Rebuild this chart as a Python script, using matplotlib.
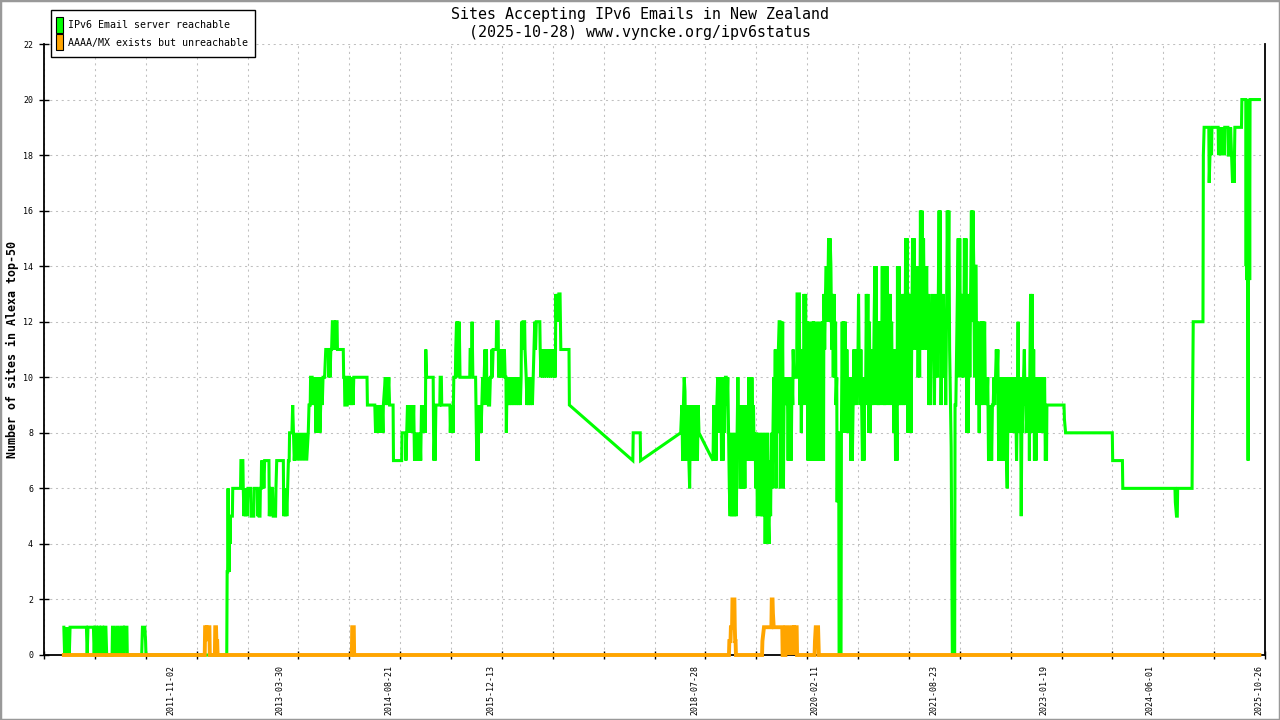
import datetime as dt
import numpy as np
import matplotlib
matplotlib.use("Agg")
import matplotlib.pyplot as plt
from matplotlib.patches import Rectangle
from matplotlib.transforms import blended_transform_factory

plt.rcParams['font.family'] = ['DejaVu Sans Mono']

title_1 = "Sites Accepting IPv6 Emails in New Zealand"
title_2 = "(2025-10-28) www.vyncke.org/ipv6status"
y_label = "Number of sites in Alexa top-50"
legend_labels = ["IPv6 Email server reachable", "AAAA/MX exists but unreachable"]
colors = ["#00ff00", "#ffa500"]

date_labels = ["2011-11-02", "2013-03-30", "2014-08-21", "2015-12-13", "2018-07-28",
               "2020-02-11", "2021-08-23", "2023-01-19", "2024-06-01", "2025-10-26"]
y_ticks = list(range(0, 23, 2))
x_start, x_end = 2010.205, 2025.892  # axis span in decimal years

# (decimal year, sites)
reachable = [
    (2010.46, 1), (2010.47, 0), (2010.48, 1), (2010.49, 0), (2010.50, 1), (2010.51, 0),
    (2010.52, 1), (2010.53, 0), (2010.54, 1), (2010.75, 1), (2010.76, 0), (2010.77, 1),
    (2010.84, 1), (2010.85, 0), (2010.86, 1), (2010.88, 1), (2010.89, 0), (2010.90, 1),
    (2010.92, 1), (2010.93, 0), (2010.94, 1), (2010.96, 1), (2010.97, 0), (2010.98, 1),
    (2011.00, 1), (2011.01, 0), (2011.08, 0), (2011.085, 1), (2011.10, 1), (2011.105, 0),
    (2011.115, 1), (2011.13, 0), (2011.14, 1), (2011.16, 1), (2011.165, 0), (2011.175, 1),
    (2011.19, 0), (2011.20, 1), (2011.225, 1), (2011.23, 0), (2011.24, 1), (2011.27, 1),
    (2011.275, 0), (2011.46, 0), (2011.465, 0.5), (2011.47, 1), (2011.50, 1), (2011.51, 0.5),
    (2011.515, 0), (2012.553, 0), (2012.558, 3), (2012.566, 3), (2012.57, 6), (2012.575, 3),
    (2012.58, 5), (2012.585, 3), (2012.59, 5), (2012.595, 4), (2012.60, 5), (2012.625, 5),
    (2012.63, 6), (2012.73, 6), (2012.735, 7), (2012.76, 7), (2012.765, 6), (2012.775, 5),
    (2012.785, 6), (2012.795, 5), (2012.805, 6), (2012.815, 5), (2012.825, 6), (2012.86, 6),
    (2012.865, 5), (2012.90, 5), (2012.905, 6), (2012.945, 6), (2012.95, 5), (2012.955, 6),
    (2012.96, 5), (2012.965, 6), (2012.97, 5), (2012.98, 5), (2012.985, 6), (2012.995, 6),
    (2013.00, 7), (2013.01, 6), (2013.02, 7), (2013.03, 6), (2013.04, 7), (2013.095, 7),
    (2013.10, 5), (2013.11, 6), (2013.12, 5), (2013.125, 6), (2013.14, 6), (2013.15, 5),
    (2013.18, 5), (2013.185, 6), (2013.195, 7), (2013.28, 7), (2013.285, 5), (2013.295, 6),
    (2013.305, 5), (2013.315, 6), (2013.325, 5), (2013.335, 6), (2013.345, 7), (2013.355, 7),
    (2013.36, 8), (2013.39, 8), (2013.40, 9), (2013.41, 8), (2013.42, 7), (2013.44, 8),
    (2013.46, 7), (2013.48, 8), (2013.50, 7), (2013.52, 8), (2013.54, 7), (2013.56, 8),
    (2013.58, 7), (2013.60, 8), (2013.61, 9), (2013.625, 9), (2013.63, 10), (2013.65, 10),
    (2013.66, 9), (2013.67, 10), (2013.68, 9), (2013.69, 10), (2013.70, 8), (2013.71, 10),
    (2013.72, 9), (2013.73, 8), (2013.74, 10), (2013.75, 8), (2013.76, 9), (2013.77, 10),
    (2013.78, 9), (2013.79, 10), (2013.81, 10), (2013.825, 11), (2013.86, 11), (2013.865, 10),
    (2013.875, 11), (2013.88, 10), (2013.89, 11), (2013.90, 11), (2013.91, 12), (2013.93, 12),
    (2013.935, 11), (2013.94, 12), (2013.955, 11), (2013.96, 12), (2013.97, 12), (2013.975, 11),
    (2014.05, 11), (2014.055, 10), (2014.065, 10), (2014.07, 9), (2014.10, 9), (2014.105, 10),
    (2014.13, 10), (2014.135, 9), (2014.145, 10), (2014.155, 9), (2014.165, 10), (2014.175, 9),
    (2014.185, 10), (2014.355, 10), (2014.36, 9), (2014.455, 9), (2014.465, 8), (2014.475, 9),
    (2014.485, 8), (2014.50, 9), (2014.51, 8), (2014.525, 9), (2014.535, 8), (2014.55, 9),
    (2014.56, 8), (2014.565, 9), (2014.59, 10), (2014.60, 9), (2014.61, 10), (2014.62, 9),
    (2014.635, 10), (2014.645, 9), (2014.69, 9), (2014.695, 7), (2014.80, 7), (2014.805, 8),
    (2014.85, 8), (2014.855, 7), (2014.865, 8), (2014.875, 9), (2014.885, 8), (2014.895, 9),
    (2014.905, 8), (2014.915, 9), (2014.925, 8), (2014.935, 9), (2014.945, 8), (2014.955, 9),
    (2014.965, 7), (2014.975, 8), (2014.985, 7), (2014.995, 8), (2015.005, 7), (2015.015, 8),
    (2015.025, 7), (2015.035, 8), (2015.045, 7), (2015.055, 9), (2015.065, 8), (2015.075, 9),
    (2015.085, 8), (2015.095, 9), (2015.105, 8), (2015.11, 11), (2015.12, 10), (2015.205, 10),
    (2015.21, 8), (2015.215, 7), (2015.225, 8), (2015.23, 7), (2015.24, 9), (2015.29, 9),
    (2015.295, 10), (2015.31, 10), (2015.315, 9), (2015.42, 9), (2015.425, 8), (2015.435, 9),
    (2015.445, 8), (2015.455, 9), (2015.46, 8), (2015.47, 10), (2015.49, 10), (2015.495, 11),
    (2015.505, 12), (2015.51, 10), (2015.52, 12), (2015.53, 11), (2015.54, 12), (2015.55, 10),
    (2015.675, 10), (2015.68, 11), (2015.70, 11), (2015.705, 12), (2015.71, 11), (2015.715, 10),
    (2015.75, 10), (2015.76, 8), (2015.765, 7), (2015.775, 8), (2015.785, 7), (2015.79, 9),
    (2015.80, 8), (2015.81, 9), (2015.82, 8), (2015.83, 9), (2015.84, 10), (2015.85, 9),
    (2015.86, 10), (2015.87, 11), (2015.88, 10), (2015.89, 11), (2015.895, 9), (2015.905, 10),
    (2015.915, 9), (2015.93, 9), (2015.94, 10), (2015.955, 10), (2015.96, 11), (2015.965, 10),
    (2015.975, 11), (2016.015, 11), (2016.02, 12), (2016.04, 12), (2016.045, 10), (2016.055, 11),
    (2016.065, 10), (2016.075, 11), (2016.085, 10), (2016.10, 11), (2016.11, 10), (2016.12, 11),
    (2016.13, 10), (2016.14, 10), (2016.145, 8), (2016.155, 10), (2016.165, 9), (2016.175, 10),
    (2016.185, 9), (2016.195, 10), (2016.21, 9), (2016.22, 10), (2016.23, 9), (2016.245, 10),
    (2016.255, 9), (2016.265, 10), (2016.28, 9), (2016.29, 10), (2016.30, 9), (2016.315, 10),
    (2016.325, 9), (2016.335, 10), (2016.34, 12), (2016.35, 11), (2016.36, 12), (2016.38, 12),
    (2016.385, 11), (2016.40, 10), (2016.41, 9), (2016.42, 10), (2016.43, 9), (2016.445, 10),
    (2016.455, 9), (2016.47, 10), (2016.48, 9), (2016.49, 10), (2016.50, 11), (2016.51, 12),
    (2016.52, 11), (2016.53, 12), (2016.575, 12), (2016.58, 11), (2016.59, 10), (2016.60, 11),
    (2016.61, 10), (2016.62, 11), (2016.635, 10), (2016.645, 11), (2016.66, 10), (2016.67, 11),
    (2016.685, 10), (2016.695, 11), (2016.71, 10), (2016.72, 11), (2016.735, 10), (2016.745, 11),
    (2016.76, 10), (2016.77, 11), (2016.775, 10), (2016.78, 13), (2016.79, 12), (2016.80, 13),
    (2016.81, 12), (2016.82, 13), (2016.835, 13), (2016.84, 12), (2016.845, 11), (2016.95, 11),
    (2016.955, 9), (2017.77, 7), (2017.775, 8), (2017.865, 8), (2017.87, 7), (2018.385, 8),
    (2018.40, 9), (2018.41, 7), (2018.42, 9), (2018.43, 10), (2018.44, 9.5), (2018.45, 7),
    (2018.46, 9), (2018.47, 7), (2018.48, 9), (2018.49, 7), (2018.50, 6), (2018.51, 9),
    (2018.52, 7), (2018.53, 9), (2018.54, 7), (2018.55, 9), (2018.56, 7), (2018.57, 9),
    (2018.58, 7), (2018.59, 9), (2018.60, 7), (2018.61, 9), (2018.62, 8), (2018.80, 7),
    (2018.81, 9), (2018.82, 7), (2018.83, 9), (2018.84, 7), (2018.85, 9), (2018.86, 10),
    (2018.87, 8), (2018.88, 10), (2018.89, 9), (2018.90, 10), (2018.91, 7), (2018.92, 9),
    (2018.93, 7), (2018.94, 10), (2018.95, 8), (2018.96, 10), (2018.97, 10), (2018.98, 9),
    (2018.99, 10), (2019.00, 8), (2019.01, 6), (2019.02, 5), (2019.03, 8), (2019.04, 5),
    (2019.05, 7), (2019.06, 5), (2019.07, 8), (2019.08, 5), (2019.09, 7), (2019.10, 5),
    (2019.11, 8), (2019.12, 10), (2019.13, 8), (2019.14, 9), (2019.15, 6), (2019.16, 9),
    (2019.17, 6), (2019.18, 9), (2019.19, 6), (2019.20, 8), (2019.21, 6), (2019.22, 9),
    (2019.23, 7), (2019.24, 9), (2019.25, 7), (2019.26, 10), (2019.27, 8), (2019.28, 10),
    (2019.29, 7), (2019.30, 10), (2019.31, 8), (2019.32, 9), (2019.33, 7), (2019.34, 8),
    (2019.35, 6), (2019.36, 8), (2019.37, 5), (2019.38, 8), (2019.39, 6), (2019.40, 7),
    (2019.41, 5), (2019.42, 8), (2019.43, 5), (2019.44, 7), (2019.45, 5), (2019.46, 8),
    (2019.47, 4), (2019.48, 7), (2019.49, 5), (2019.50, 8), (2019.51, 5), (2019.52, 4),
    (2019.53, 7), (2019.54, 5), (2019.55, 8), (2019.56, 6), (2019.57, 8), (2019.58, 10),
    (2019.59, 8), (2019.60, 11), (2019.61, 6), (2019.62, 10), (2019.63, 8), (2019.64, 11),
    (2019.65, 12), (2019.66, 12), (2019.665, 6), (2019.675, 12), (2019.685, 8), (2019.695, 12),
    (2019.705, 6), (2019.715, 10), (2019.725, 9), (2019.735, 10), (2019.745, 9), (2019.755, 10),
    (2019.765, 7), (2019.775, 10), (2019.785, 7), (2019.795, 10), (2019.805, 7), (2019.815, 10),
    (2019.825, 9), (2019.83, 11), (2019.84, 10), (2019.875, 10), (2019.88, 13), (2019.91, 13),
    (2019.915, 9), (2019.925, 11), (2019.935, 8), (2019.945, 11), (2019.955, 9), (2019.965, 11),
    (2019.97, 13), (2019.98, 10), (2019.99, 13), (2020.00, 9), (2020.01, 12), (2020.02, 7),
    (2020.03, 12), (2020.04, 7), (2020.05, 11), (2020.06, 8), (2020.07, 12), (2020.08, 7),
    (2020.09, 12), (2020.10, 9), (2020.11, 12), (2020.12, 7), (2020.13, 11), (2020.14, 8),
    (2020.15, 12), (2020.16, 7), (2020.17, 11), (2020.18, 7), (2020.19, 12), (2020.20, 8),
    (2020.21, 12), (2020.22, 7), (2020.225, 13), (2020.235, 11), (2020.245, 13), (2020.255, 14),
    (2020.265, 12), (2020.275, 13), (2020.285, 15), (2020.295, 12), (2020.305, 15), (2020.315, 14),
    (2020.325, 11), (2020.335, 13), (2020.345, 10), (2020.355, 13), (2020.365, 10), (2020.375, 12),
    (2020.38, 9), (2020.39, 10), (2020.395, 5.5), (2020.40, 8), (2020.415, 8), (2020.42, 0),
    (2020.445, 0), (2020.45, 8), (2020.46, 12), (2020.47, 8), (2020.48, 12), (2020.49, 9),
    (2020.50, 12), (2020.51, 8), (2020.52, 11), (2020.53, 9), (2020.54, 10), (2020.55, 8),
    (2020.56, 10), (2020.57, 7), (2020.58, 10), (2020.59, 7), (2020.60, 9), (2020.61, 11),
    (2020.62, 9), (2020.63, 11), (2020.64, 9), (2020.65, 11), (2020.66, 10), (2020.67, 13),
    (2020.68, 10), (2020.69, 9), (2020.70, 11), (2020.71, 9), (2020.72, 7), (2020.73, 10),
    (2020.74, 7), (2020.75, 10), (2020.76, 9), (2020.77, 13), (2020.78, 10), (2020.79, 13),
    (2020.80, 8), (2020.81, 12), (2020.82, 8), (2020.83, 11), (2020.84, 9), (2020.85, 10),
    (2020.86, 9), (2020.87, 12), (2020.88, 14), (2020.89, 10), (2020.895, 14), (2020.905, 9),
    (2020.915, 12), (2020.925, 9), (2020.935, 12), (2020.945, 9), (2020.955, 12), (2020.965, 10),
    (2020.975, 14), (2020.985, 9), (2020.995, 14), (2021.005, 9), (2021.015, 12), (2021.025, 9),
    (2021.035, 14), (2021.045, 10), (2021.055, 13), (2021.065, 9), (2021.075, 13), (2021.085, 10),
    (2021.095, 12), (2021.105, 9), (2021.115, 11), (2021.125, 8), (2021.135, 11), (2021.145, 7),
    (2021.155, 10), (2021.165, 7), (2021.17, 14), (2021.18, 9), (2021.19, 14), (2021.20, 9),
    (2021.21, 11), (2021.22, 9), (2021.23, 11), (2021.235, 13), (2021.245, 9), (2021.255, 13),
    (2021.265, 9), (2021.275, 15), (2021.285, 10), (2021.295, 15), (2021.305, 8), (2021.315, 13),
    (2021.325, 10), (2021.335, 13), (2021.345, 8), (2021.355, 12), (2021.365, 15), (2021.375, 11),
    (2021.385, 15), (2021.395, 12), (2021.405, 14), (2021.415, 11), (2021.425, 14), (2021.435, 10),
    (2021.445, 13), (2021.455, 10), (2021.465, 16), (2021.475, 12), (2021.485, 16), (2021.495, 11),
    (2021.505, 15), (2021.515, 12), (2021.525, 13), (2021.535, 11), (2021.545, 14), (2021.555, 11),
    (2021.565, 13), (2021.575, 9), (2021.585, 12), (2021.595, 9), (2021.605, 12), (2021.615, 13),
    (2021.625, 11), (2021.635, 12), (2021.645, 9), (2021.655, 13), (2021.665, 10), (2021.675, 12),
    (2021.685, 10), (2021.695, 13), (2021.705, 16), (2021.715, 12), (2021.72, 16), (2021.73, 9),
    (2021.74, 12), (2021.75, 10), (2021.76, 13), (2021.77, 10), (2021.78, 12), (2021.79, 9),
    (2021.80, 12), (2021.81, 16), (2021.82, 13), (2021.83, 16), (2021.84, 11), (2021.86, 7.5),
    (2021.875, 0), (2021.905, 0), (2021.91, 9), (2021.92, 9), (2021.95, 15), (2021.96, 10),
    (2021.97, 15), (2021.98, 11), (2021.99, 13), (2022.00, 10), (2022.01, 13), (2022.02, 10),
    (2022.03, 15), (2022.04, 11), (2022.05, 15), (2022.06, 8), (2022.07, 12), (2022.08, 8),
    (2022.09, 13), (2022.10, 10), (2022.11, 13), (2022.12, 16), (2022.13, 12), (2022.14, 16),
    (2022.15, 14), (2022.16, 10), (2022.17, 14), (2022.18, 14), (2022.19, 9), (2022.20, 12),
    (2022.21, 11), (2022.22, 8), (2022.23, 12), (2022.24, 9), (2022.25, 12), (2022.26, 9),
    (2022.27, 12), (2022.28, 10), (2022.29, 12), (2022.30, 9), (2022.31, 10), (2022.32, 9),
    (2022.33, 10), (2022.34, 7), (2022.35, 9), (2022.36, 7), (2022.37, 9), (2022.38, 7),
    (2022.39, 9), (2022.40, 9), (2022.41, 10), (2022.42, 9), (2022.43, 10), (2022.44, 11),
    (2022.45, 10), (2022.46, 11), (2022.47, 7), (2022.48, 10), (2022.49, 7), (2022.50, 9),
    (2022.51, 7), (2022.52, 10), (2022.53, 7), (2022.54, 9), (2022.55, 7), (2022.56, 10),
    (2022.57, 7), (2022.58, 6), (2022.59, 9), (2022.60, 10), (2022.61, 9), (2022.62, 10),
    (2022.63, 8), (2022.64, 10), (2022.65, 9), (2022.66, 10), (2022.67, 8), (2022.68, 10),
    (2022.69, 9), (2022.70, 7), (2022.71, 9), (2022.72, 12), (2022.73, 8), (2022.74, 9),
    (2022.75, 10), (2022.76, 5), (2022.77, 9), (2022.78, 8), (2022.79, 10), (2022.80, 11),
    (2022.81, 9), (2022.82, 10), (2022.83, 8), (2022.84, 10), (2022.85, 8), (2022.86, 10),
    (2022.865, 7), (2022.87, 10), (2022.88, 13), (2022.89, 9), (2022.90, 13), (2022.91, 8),
    (2022.92, 11), (2022.93, 7), (2022.94, 10), (2022.95, 7), (2022.96, 10), (2022.97, 8),
    (2022.98, 10), (2022.99, 8), (2023.00, 10), (2023.01, 8), (2023.02, 10), (2023.03, 9),
    (2023.04, 10), (2023.05, 8), (2023.06, 10), (2023.07, 7), (2023.08, 9), (2023.085, 7),
    (2023.09, 9), (2023.31, 9), (2023.315, 8.5), (2023.33, 8), (2023.93, 8), (2023.935, 7),
    (2024.06, 7), (2024.065, 6), (2024.735, 6), (2024.74, 5.5), (2024.755, 5), (2024.765, 5),
    (2024.77, 6), (2024.955, 6), (2024.96, 8.5), (2024.97, 12), (2025.095, 12), (2025.10, 18),
    (2025.11, 19), (2025.17, 19), (2025.175, 17), (2025.185, 18), (2025.19, 19), (2025.195, 18),
    (2025.20, 19), (2025.205, 18), (2025.21, 19), (2025.29, 19), (2025.295, 18), (2025.305, 19),
    (2025.31, 18), (2025.32, 19), (2025.325, 18), (2025.335, 19), (2025.34, 18), (2025.35, 19),
    (2025.355, 18), (2025.365, 19), (2025.37, 18), (2025.375, 19), (2025.415, 19), (2025.42, 18),
    (2025.445, 18), (2025.45, 19), (2025.475, 17), (2025.485, 18), (2025.495, 17), (2025.505, 19),
    (2025.59, 19), (2025.595, 20), (2025.645, 20), (2025.65, 14), (2025.655, 20), (2025.66, 13.5),
    (2025.665, 20), (2025.675, 7), (2025.68, 20), (2025.685, 14), (2025.69, 20), (2025.695, 13.5),
    (2025.70, 20), (2025.82, 20),
]

unreachable = [
    (2010.46, 0), (2012.27, 0), (2012.275, 1), (2012.29, 1), (2012.295, 0.5), (2012.30, 1),
    (2012.33, 1), (2012.335, 0), (2012.40, 0), (2012.405, 1), (2012.415, 1), (2012.42, 0.5),
    (2012.43, 0.5), (2012.435, 0), (2014.16, 0), (2014.165, 1), (2014.185, 1), (2014.19, 0),
    (2019.005, 0), (2019.01, 0.5), (2019.025, 0.5), (2019.03, 1), (2019.045, 1), (2019.05, 2),
    (2019.075, 2), (2019.08, 1), (2019.085, 0.5), (2019.09, 0.5), (2019.095, 0),
    (2019.43, 0), (2019.435, 0.5), (2019.455, 1), (2019.55, 1), (2019.555, 2), (2019.565, 2),
    (2019.57, 1.5), (2019.58, 1), (2019.69, 1), (2019.695, 0), (2019.73, 0), (2019.735, 1),
    (2019.76, 1), (2019.765, 0), (2019.775, 1), (2019.785, 0), (2019.795, 1), (2019.805, 0),
    (2019.81, 1), (2019.835, 1), (2019.84, 0), (2019.845, 1), (2019.875, 1), (2019.88, 0),
    (2020.105, 0), (2020.11, 0.5), (2020.12, 1), (2020.15, 1), (2020.16, 0), (2025.82, 0),
]


def dec_year(s):
    d = dt.date.fromisoformat(s)
    start = dt.date(d.year, 1, 1)
    length = (dt.date(d.year + 1, 1, 1) - start).days
    return d.year + (d - start).days / length


W, H = 1280, 720
fig = plt.figure(figsize=(W / 100, H / 100), dpi=100)
ax = fig.add_axes([44 / W, 65 / H, 1221 / W, 611 / H])

rx, ry = zip(*reachable)
ux, uy = zip(*unreachable)
ax.plot(rx, ry, color=colors[0], lw=2.2, solid_joinstyle='miter', zorder=3, clip_on=False)
ax.plot(ux, uy, color=colors[1], lw=2.8, solid_joinstyle='miter', zorder=4, clip_on=False)

ax.set_xlim(x_start, x_end)
ax.set_ylim(0, 22)

ax.set_xticks(np.linspace(x_start, x_end, 25))
ax.set_xticklabels([])
ax.set_yticks(y_ticks)
ax.set_yticklabels([str(v) for v in y_ticks], fontsize=6)
ax.tick_params(axis='x', direction='inout', length=6, width=1, color='black')
ax.tick_params(axis='y', direction='inout', length=6.8, width=1, color='black', pad=4.5)

ax.grid(True, color='#c0c0c0', lw=0.75, linestyle=(0, (2, 3.5)))
ax.set_axisbelow(True)
ax.spines['top'].set_visible(False)
for side in ['left', 'bottom', 'right']:
    ax.spines[side].set_linewidth(1.3)
    ax.spines[side].set_zorder(2)

trans = blended_transform_factory(ax.transData, ax.transAxes)
for lab in date_labels:
    ax.text(dec_year(lab), -0.017, lab, transform=trans, rotation=90,
            ha='center', va='top', fontsize=6)

fig.text(640 / W, 1 - 14 / H, title_1, ha='center', va='center', fontsize=10.8)
fig.text(640 / W, 1 - 32 / H, title_2, ha='center', va='center', fontsize=10.8)
fig.text(12 / W, 1 - 349 / H, y_label, rotation=90, ha='center', va='center',
         fontsize=8.4, fontweight='bold')

# legend box drawn in figure pixels
def px_rect(x0, y0, x1, y1, **kw):
    return Rectangle((x0 / W, 1 - y1 / H), (x1 - x0) / W, (y1 - y0) / H,
                     transform=fig.transFigure, **kw)

fig.patches.append(px_rect(50.5, 10, 254.5, 57, fill=True, facecolor='white',
                           edgecolor='black', lw=1, zorder=5))
fig.patches.append(px_rect(56, 17, 62.5, 32.5, facecolor=colors[0],
                           edgecolor='black', lw=0.8, zorder=6))
fig.patches.append(px_rect(56, 34, 62.5, 49.5, facecolor=colors[1],
                           edgecolor='black', lw=0.8, zorder=6))
fig.text(68 / W, 1 - 25.5 / H, legend_labels[0], ha='left', va='center', fontsize=7.2, zorder=7)
fig.text(68 / W, 1 - 43 / H, legend_labels[1], ha='left', va='center', fontsize=7.2, zorder=7)

fig.patches.append(Rectangle((0, 0), 1, 1, transform=fig.transFigure, fill=False,
                             edgecolor='#999999', lw=2.5, zorder=10))

fig.savefig("out.png", dpi=100)
